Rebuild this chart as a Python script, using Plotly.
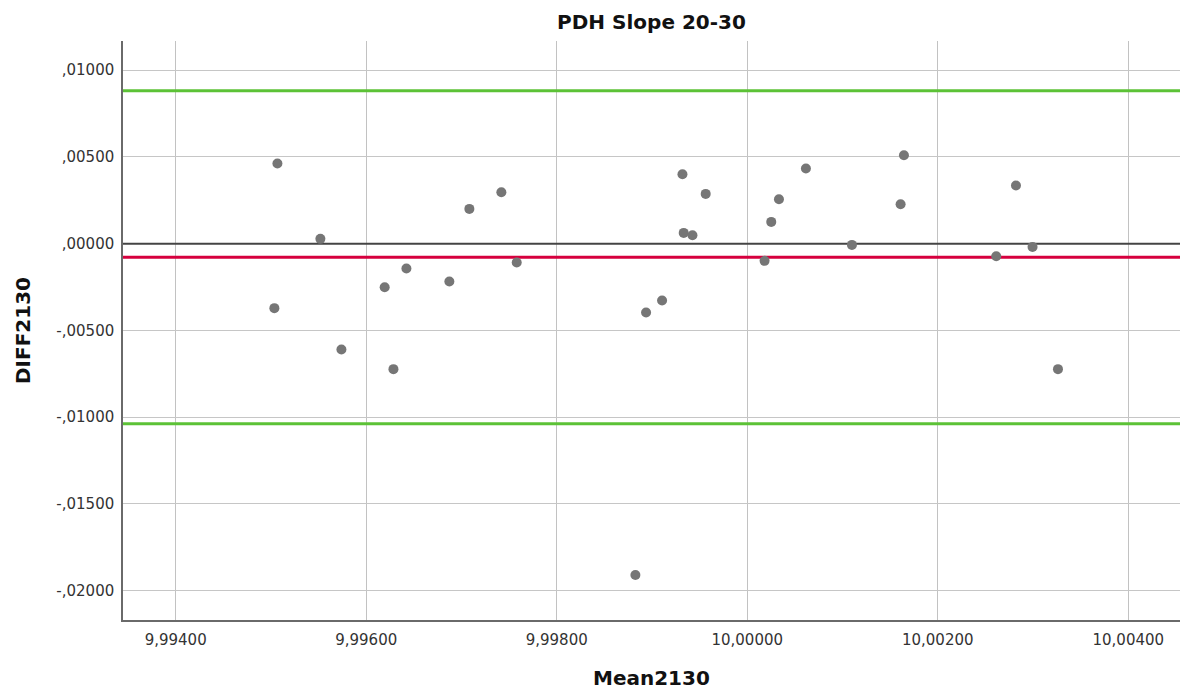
import plotly.graph_objects as go

# ---- data ----
mean2130 = [9.995068, 9.995519, 9.995036, 9.995740, 9.996194, 9.996286, 9.996422,
            9.996873, 9.997083, 9.997419, 9.997580, 9.998826, 9.998938, 9.999106,
            9.999320, 9.999333, 9.999425, 9.999564, 10.000182, 10.000252, 10.000333,
            10.000616, 10.001099, 10.001610, 10.001645, 10.002614, 10.002821,
            10.002995, 10.003262]
diff2130 = [0.00462, 0.00028, -0.003715, -0.006095, -0.002506, -0.00723, -0.001429,
            -0.002178, 0.002005, 0.002967, -0.001083, -0.019096, -0.003963, -0.003272,
            0.004003, 0.000622, 0.00049, 0.002869, -0.00099, 0.001256, 0.002563,
            0.004332, -0.00007, 0.002275, 0.005098, -0.00072, 0.003353,
            -0.000184, -0.00723]

mean_diff = -0.00078
upper_loa = 0.00882
lower_loa = -0.01038
zero_ref = 0.0

x_range = [9.993447, 10.004543]
y_range = [-0.021688, 0.011682]

x_tickvals = [9.994, 9.996, 9.998, 10.000, 10.002, 10.004]
x_ticktext = ["9,99400", "9,99600", "9,99800", "10,00000", "10,00200", "10,00400"]
y_tickvals = [0.01, 0.005, 0.0, -0.005, -0.01, -0.015, -0.02]
y_ticktext = [",01000", ",00500", ",00000", "-,00500", "-,01000", "-,01500", "-,02000"]

title_text = "PDH Slope 20-30"
x_title = "Mean2130"
y_title = "DIFF2130"

# ---- figure ----
W, H = 1186, 691
ml, mr, mt, mb = 123, 6, 41, 71

fig = go.Figure()

line_specs = [
    (zero_ref, "#444444", 2),
    (upper_loa, "#5cc236", 3),
    (mean_diff, "#d6003e", 3),
    (lower_loa, "#5cc236", 3),
]
for yv, col, w in line_specs:
    fig.add_trace(go.Scatter(x=x_range, y=[yv, yv], mode="lines",
                             line=dict(color=col, width=w), showlegend=False,
                             hoverinfo="y", cliponaxis=True))

fig.add_trace(go.Scatter(
    x=mean2130, y=diff2130, mode="markers",
    marker=dict(color="#767676", size=10, line=dict(width=0)),
    showlegend=False, hoverinfo="x+y",
))

tick_font = dict(family="DejaVu Sans, Verdana, sans-serif", size=15, color="#333333")
title_font = dict(family="DejaVu Sans, Verdana, sans-serif", size=20, color="#111111")

fig.update_layout(
    width=W, height=H,
    margin=dict(l=ml, r=mr, t=mt, b=mb),
    paper_bgcolor="white", plot_bgcolor="white",
    title=dict(text="<b>" + title_text + "</b>", x=0.5, xanchor="center",
               xref="paper", y=1 - 22 / H, yanchor="middle", yref="container",
               font=dict(family="DejaVu Sans, Verdana, sans-serif", size=20, color="#111111")),
    xaxis=dict(range=x_range, tickmode="array", tickvals=x_tickvals,
               ticktext=x_ticktext, tickfont=tick_font, showgrid=True,
               gridcolor="#c2c2c2", gridwidth=1.3, zeroline=False, showline=True,
               linecolor="#6a6a6a", linewidth=1.5, ticks="outside", ticklen=5,
               tickcolor="rgba(0,0,0,0)"),
    yaxis=dict(range=y_range, tickmode="array", tickvals=y_tickvals,
               ticktext=y_ticktext, tickfont=tick_font, showgrid=True,
               gridcolor="#c6c6c6", gridwidth=1.3, zeroline=False, showline=True,
               linecolor="#6a6a6a", linewidth=1.5, ticks="outside", ticklen=4,
               tickcolor="rgba(0,0,0,0)"),
    annotations=[
        dict(text="<b>" + x_title + "</b>", xref="paper", yref="paper",
             x=0.5, y=(620 - 678) / (H - mt - mb), xanchor="center", yanchor="middle",
             showarrow=False, font=title_font),
        dict(text="<b>" + y_title + "</b>", xref="paper", yref="paper",
             x=(22.5 - ml) / (W - ml - mr), y=0.5, xanchor="center", yanchor="middle",
             textangle=-90, showarrow=False, font=title_font),
    ],
)

fig.write_html("out.html")
